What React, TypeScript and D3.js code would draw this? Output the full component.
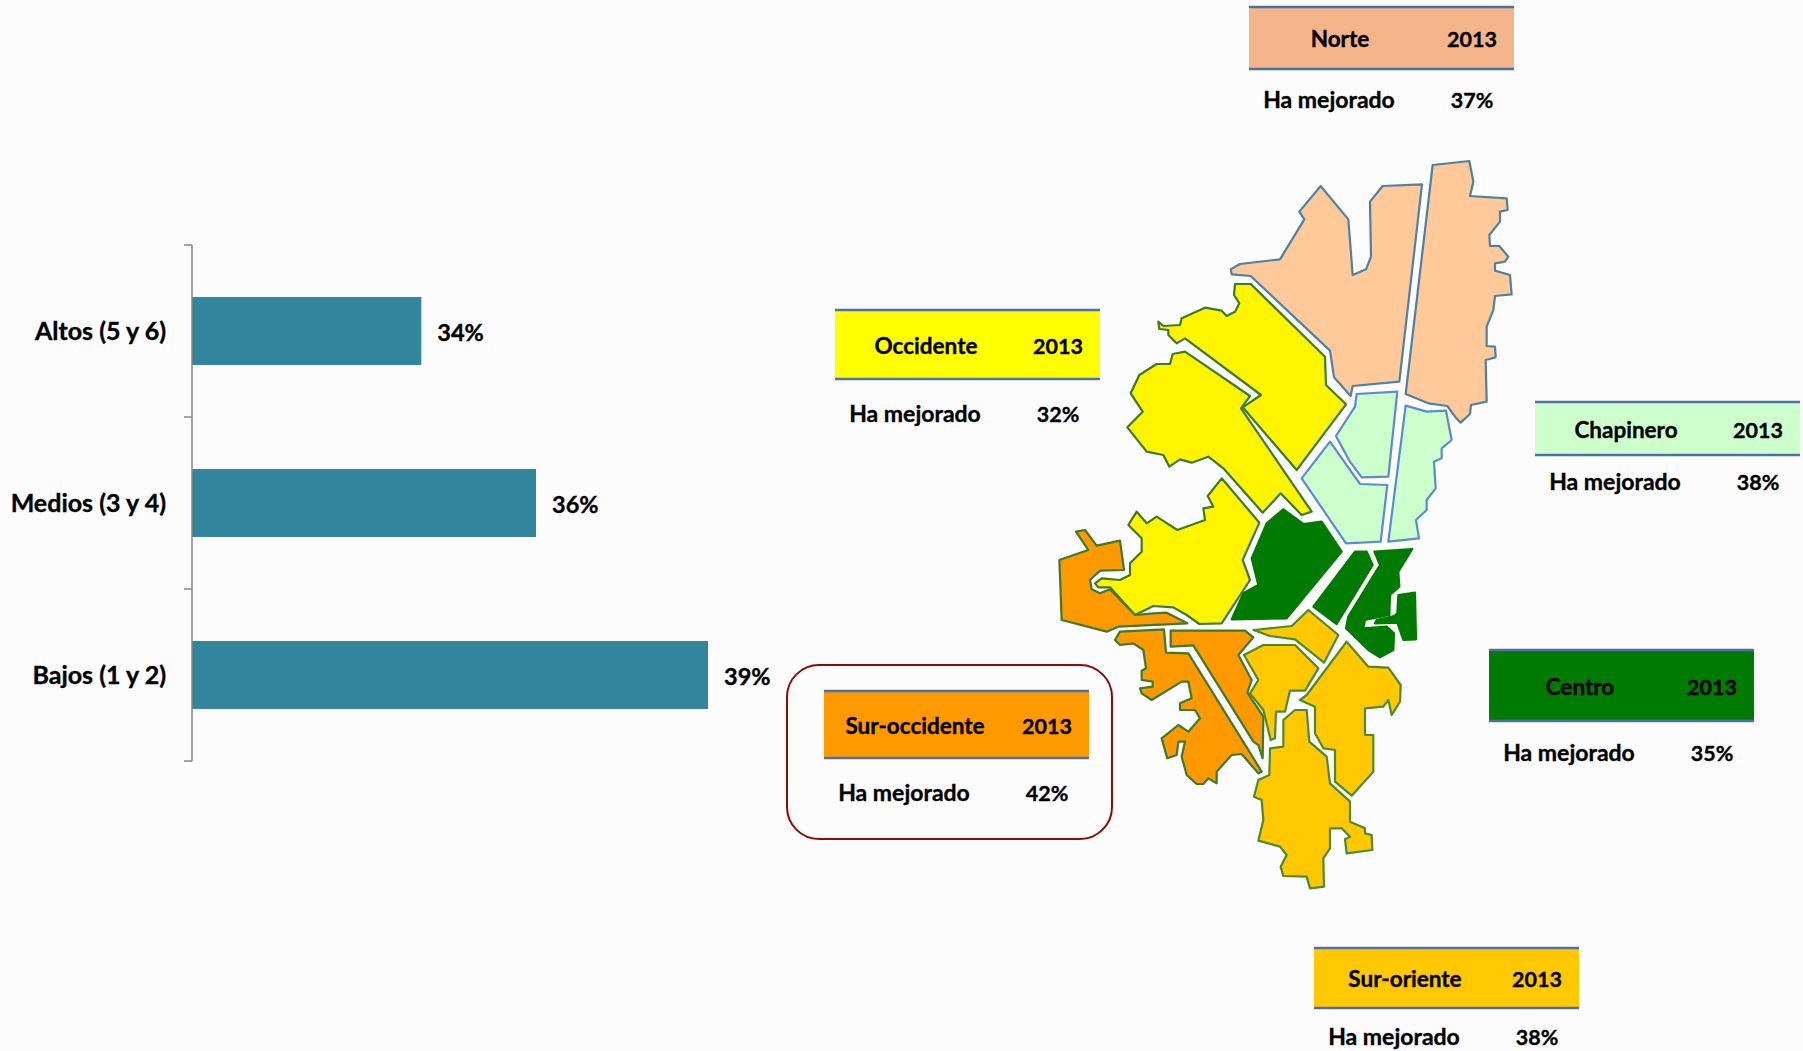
import React from 'react';
import * as d3 from 'd3';

type Pt = [number, number];

// Bar chart data
const strata = ['Altos (5 y 6)', 'Medios (3 y 4)', 'Bajos (1 y 2)'];
const strataValues = [34, 36, 39];

// Region tables
const regionNames = ['Norte', 'Occidente', 'Chapinero', 'Centro', 'Sur-occidente', 'Sur-oriente'];
const regionImproved = [37, 32, 38, 35, 42, 38];
const regionColors = ['#F4B48A', '#FFFF00', '#CCFFCC', '#007A00', '#FF9900', '#FFC800'];
const tableYear = '2013';
const rowLabel = 'Ha mejorado';

// Map outlines, traced in map units; the lower half is traced from y = 1080
const south = (pts: Pt[]): Pt[] => pts.map(([x, y]) => [x, y + 1080]);

const norteOutlines: Pt[][] = [
  [[1146,133],[1028,138],[990,185],[993,350],[978,388],[938,405],[925,238],[842,138],[778,215],[793,238],[720,358],[600,372],[572,388],[575,403],[632,408],[870,632],[882,712],[932,768],[938,738],[1078,725]],
  [[1178,75],[1288,63],[1300,125],[1290,168],[1400,175],[1403,210],[1380,215],[1380,245],[1348,285],[1350,318],[1378,318],[1405,350],[1395,365],[1365,370],[1365,392],[1410,405],[1415,463],[1365,468],[1360,510],[1340,560],[1340,618],[1365,620],[1367,652],[1337,660],[1340,785],[1293,795],[1290,822],[1262,848],[1245,830],[1222,798],[1165,790],[1097,762]],
];
const occidenteOutlines: Pt[][] = [
  [[355,545],[370,558],[420,555],[425,535],[495,503],[545,512],[560,528],[585,515],[598,490],[582,465],[585,432],[632,432],[855,650],[858,735],[918,793],[770,990],[608,802],[663,765],[435,595],[410,610],[385,585],[385,570],[358,567]],
  [[435,635],[630,768],[603,805],[815,1115],[785,1125],[722,1060],[668,1118],[550,985],[505,950],[455,968],[420,958],[388,980],[370,945],[320,935],[262,862],[308,815],[272,760],[298,705],[350,672],[390,672],[398,642]],
  [[545,1015],[503,1068],[520,1100],[490,1105],[495,1140],[412,1170],[350,1130],[320,1150],[290,1115],[265,1155],[305,1195],[305,1235],[270,1270],[270,1305],[240,1320],[185,1315],[165,1330],[175,1342],[210,1342],[285,1425],[340,1398],[400,1402],[440,1425],[478,1452],[545,1450],[630,1320],[608,1260],[658,1148]],
];
const chapineroOutlines: Pt[][] = [
  [[950,762],[1072,755],[1045,1010],[965,1012],[930,965],[888,888],[945,800]],
  [[870,905],[960,1032],[1042,1035],[1022,1205],[918,1210],[785,1015]],
  [[1097,797],[1160,815],[1218,812],[1235,900],[1205,925],[1205,955],[1182,965],[1187,1045],[1160,1080],[1160,1110],[1128,1140],[1137,1195],[1045,1205]],
];
const centroOutlines: Pt[][] = ([
  [[730,28],[790,72],[845,65],[905,155],[740,355],[575,358],[610,280],[655,255],[635,175],[680,70]],
  [[945,155],[980,155],[998,195],[890,372],[820,320]],
  [[1003,155],[1117,147],[1075,215],[1078,260],[1050,285],[1048,345],[975,360],[970,385],[1040,380],[1062,400],[1060,450],[1020,472],[985,450],[918,385],[925,350],[1020,195]],
  [[1075,285],[1125,278],[1128,418],[1090,420],[1072,368],[1005,370],[1010,360],[1062,348],[1072,340]],
] as Pt[][]).map(south);
const surOccidenteOutlines: Pt[][] = ([
  [[108,95],[135,90],[170,137],[240,122],[252,210],[180,212],[150,240],[155,268],[180,280],[210,268],[285,345],[340,340],[380,338],[442,370],[235,380],[200,395],[65,360],[58,180],[145,150]],
  [[240,395],[372,388],[378,458],[445,460],[622,745],[665,815],[655,820],[605,762],[575,765],[530,815],[530,850],[505,835],[490,852],[470,852],[440,825],[425,770],[435,725],[415,725],[410,765],[382,775],[365,715],[415,675],[445,695],[480,655],[465,630],[420,630],[420,610],[455,595],[445,545],[425,545],[335,600],[305,580],[300,565],[338,560],[338,545],[305,540],[305,512],[318,505],[310,450],[280,430],[240,435],[225,420]],
  [[392,392],[615,392],[640,412],[595,465],[635,540],[622,578],[670,650],[668,775],[655,735],[640,725],[460,436],[392,440]],
] as Pt[][]).map(south);
const surOrienteOutlines: Pt[][] = ([
  [[640,390],[755,378],[805,330],[895,405],[852,488],[765,418],[690,408]],
  [[670,435],[765,435],[835,505],[795,572],[750,572],[735,635],[708,635],[705,715],[692,720],[670,630],[630,580],[655,540],[612,465]],
  [[920,425],[985,500],[1045,503],[1082,555],[1080,605],[1055,645],[1045,600],[1030,620],[975,625],[975,705],[1000,705],[1000,815],[935,887],[885,845],[885,750],[850,745],[825,700],[825,620],[780,600],[800,585]],
  [[765,630],[800,630],[808,725],[860,770],[870,850],[930,905],[930,965],[975,985],[975,1000],[995,1005],[997,1050],[920,1060],[915,1018],[930,1010],[905,985],[870,985],[870,1045],[850,1075],[852,1160],[810,1165],[800,1130],[730,1128],[722,1100],[740,1065],[720,1040],[655,1022],[670,960],[665,900],[642,890],[655,840],[688,825],[690,745],[730,740],[730,660]],
] as Pt[][]).map(south);

const mapOutlines = [norteOutlines, occidenteOutlines, chapineroOutlines, centroOutlines, surOccidenteOutlines, surOrienteOutlines];
const mapFills = ['#FFC999', '#FFF500', '#CCFFCC', '#007A00', '#FF9900', '#FFC800'];
const mapStrokes = ['#4F81A0', '#3F7A2A', '#5B8BD0', '#007A00', '#3F7A2A', '#4F8A2A'];

// Layout of each table: left, top of the band, band height, centre of the row below
const tableLayout = [
  { x: 1249, y: 7, h: 62, rowY: 100 },
  { x: 835, y: 310, h: 69, rowY: 414 },
  { x: 1535, y: 402, h: 53, rowY: 482 },
  { x: 1489, y: 650, h: 71, rowY: 753 },
  { x: 824, y: 691, h: 67, rowY: 793 },
  { x: 1314, y: 948, h: 60, rowY: 1037 },
];

const WIDTH = 1803;
const HEIGHT = 1051;
const FONT = 'Lato, "Open Sans", sans-serif';
const heavy = { stroke: '#000', strokeWidth: 0.35 };

export default function App() {
  const x = d3.scaleLinear().domain([30, 39]).range([192, 708]);
  const y = d3.scaleBand().domain(strata).range([245, 761]).paddingInner(0.605).paddingOuter(0.3025);
  const step = y.step();

  const mapX = d3.scaleLinear().domain([0, 1500]).range([1040, 1540]);
  const mapY = d3.scaleLinear().domain([0, 2280]).range([140, 900]);
  const line = d3.line<Pt>().x((d) => mapX(d[0])).y((d) => mapY(d[1])).curve(d3.curveLinearClosed);

  const tickYs = d3.range(strata.length + 1).map((i) => 245 + i * step);

  return (
    <svg width={WIDTH} height={HEIGHT} style={{ position: 'absolute', left: 0, top: 0, background: '#FCFCFC' }} fontFamily={FONT} fontWeight={700} fill="#000">
      {/* bars */}
      {strata.map((s, i) => (
        <g key={s}>
          <rect x={x(30)} y={y(s)} width={x(strataValues[i]) - x(30)} height={y.bandwidth()} fill="#31859C" />
          <text {...heavy} x={x(strataValues[i]) + 16} y={y(s)! + y.bandwidth() / 2 + 10} fontSize={23.5}>{strataValues[i]}%</text>
          <text {...heavy} x={166} y={y(s)! + y.bandwidth() / 2 + 9} fontSize={25} textAnchor="end">{s}</text>
        </g>
      ))}
      <g stroke="#868686" strokeWidth={1.5} fill="none">
        <line x1={192} x2={192} y1={245} y2={761} />
        {tickYs.map((t) => <line key={t} x1={184} x2={192} y1={t} y2={t} />)}
      </g>

      {/* map */}
      {mapOutlines.map((shapes, i) => (
        <g key={regionNames[i]} fill={mapFills[i]} stroke={mapStrokes[i]} strokeWidth={2.2} strokeLinejoin="round">
          {shapes.map((p, j) => <path key={j} d={line(p) ?? ''} />)}
        </g>
      ))}

      {/* region tables */}
      {regionNames.map((name, i) => {
        const t = tableLayout[i];
        const edge = '#4F6FA8';
        return (
          <g key={name} fontSize={23}>
            <rect x={t.x} y={t.y} width={265} height={t.h} fill={regionColors[i]} />
            <line x1={t.x} x2={t.x + 265} y1={t.y} y2={t.y} stroke={edge} strokeWidth={2.5} />
            <line x1={t.x} x2={t.x + 265} y1={t.y + t.h} y2={t.y + t.h} stroke={edge} strokeWidth={2.5} />
            <text {...heavy} x={t.x + 91} y={t.y + t.h / 2 + 9} fontSize={22.5} textAnchor="middle">{name}</text>
            <text {...heavy} x={t.x + 223} y={t.y + t.h / 2 + 9} fontSize={21.5} textAnchor="middle">{tableYear}</text>
            <text {...heavy} x={t.x + 80} y={t.rowY + 8} textAnchor="middle">{rowLabel}</text>
            <text {...heavy} x={t.x + 223} y={t.rowY + 8} fontSize={21.5} textAnchor="middle">{regionImproved[i]}%</text>
          </g>
        );
      })}

      {/* highlight round the top region */}
      <rect x={787} y={665} width={325} height={174} rx={32} fill="none" stroke="#8B0A0A" strokeWidth={2} />
    </svg>
  );
}
